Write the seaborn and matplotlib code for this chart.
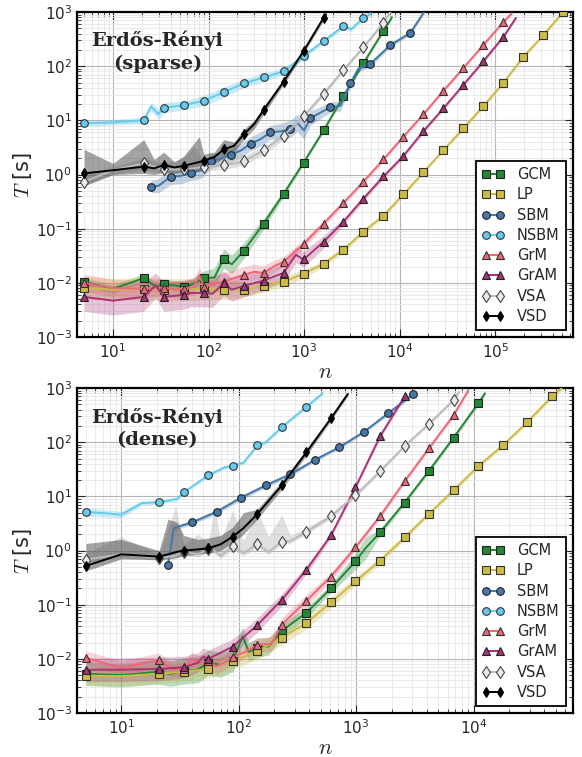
import numpy as np
import matplotlib
matplotlib.use('Agg')
import matplotlib.pyplot as plt
from matplotlib.lines import Line2D
import seaborn as sns

# ---------------------------------------------------------------
# data (n = graph size, T = runtime in s)
# markers are drawn on the Fibonacci grid (SBM: 5 x Fibonacci)
# ---------------------------------------------------------------
MARK_N = [5, 21, 34, 55, 89, 144, 233, 377, 610, 987, 1597, 2584, 4181, 6765,
          10946, 17711, 28657, 46368, 75025, 121393, 196418, 317811, 514229]
MARK_N_SBM = [25, 40, 65, 105, 170, 275, 445, 720, 1165, 1885, 3050, 4935, 7985, 12920]

METHODS = ["GCM", "LP", "SBM", "NSBM", "GrM", "GrAM", "VSA", "VSD"]

# ---- sparse ----
SP_GCM_N = [5, 10, 21, 28, 34, 55, 65, 89, 115, 144, 175, 233, 377, 610, 987, 1597, 2584, 4181, 6765, 8300]
SP_GCM_T = [0.0105, 0.0078, 0.0122, 0.0085, 0.0095, 0.0085, 0.0092, 0.0122, 0.0125, 0.028, 0.022, 0.039,
            0.124, 0.44, 1.66, 6.5, 28, 114, 450, 800]
SP_GCM_S = [1.2, 1.2, 1.2, 1.2, 1.2, 1.25, 1.25, 1.35, 1.5, 1.5, 1.5, 1.4, 1.25, 1.15, 1.1, 1.08, 1.08,
            1.08, 1.08, 1.08]

SP_LP_N = [5, 10, 21, 34, 55, 89, 144, 233, 377, 610, 987, 1597, 2584, 4181, 6765, 10946, 17711, 28657,
           46368, 75025, 121393, 196418, 317811, 514229]
SP_LP_T = [0.0081, 0.0075, 0.0078, 0.0075, 0.0075, 0.0077, 0.0075, 0.0075, 0.0088, 0.0105, 0.0147, 0.0224,
           0.041, 0.088, 0.174, 0.43, 1.1, 2.8, 7.1, 18.2, 49, 148, 370, 1000]
SP_LP_S = [1.6, 1.6, 1.6, 1.6, 1.6, 1.6, 1.5, 1.4, 1.3, 1.25, 1.2, 1.15, 1.12, 1.1, 1.1, 1.08, 1.08, 1.08,
           1.08, 1.08, 1.08, 1.08, 1.08, 1.08]

SP_SBM_N = [25, 30, 40, 52, 65, 85, 105, 140, 170, 220, 275, 350, 445, 580, 720, 850, 1000, 1165, 1885,
            2400, 3050, 3700, 4935, 7985, 12920, 18000]
SP_SBM_T = [0.60, 0.62, 0.91, 0.95, 1.08, 1.2, 1.75, 2.0, 2.3, 2.8, 3.7, 4.5, 6.0, 6.3, 7.0, 9.0, 6.5, 11,
            17.5, 18.5, 48, 90, 110, 245, 410, 1000]
SP_SBM_S = [1.3, 1.35, 1.4, 1.4, 1.4, 1.4, 1.35, 1.35, 1.35, 1.35, 1.35, 1.35, 1.35, 1.4, 1.45, 1.45, 1.45,
            1.35, 1.25, 1.25, 1.2, 1.15, 1.12, 1.1, 1.1, 1.1]

SP_NSBM_N = [5, 10, 21, 25, 30, 34, 55, 89, 144, 233, 377, 610, 987, 1597, 2584, 3100, 4181, 5000]
SP_NSBM_T = [8.8, 9.2, 10, 18, 13, 17, 19, 23, 33, 48, 62, 80, 153, 290, 550, 480, 780, 950]
SP_NSBM_S = [1.12, 1.12, 1.15, 1.2, 1.25, 1.25, 1.2, 1.25, 1.25, 1.2, 1.2, 1.15, 1.12, 1.1, 1.1, 1.1, 1.1, 1.1]

SP_GRM_N = [5, 10, 21, 34, 45, 55, 70, 80, 89, 110, 144, 190, 233, 300, 377, 480, 610, 987, 1597, 2584,
            4181, 6765, 10946, 17711, 28657, 46368, 75025, 121393, 150000]
SP_GRM_T = [0.0100, 0.008, 0.0078, 0.0082, 0.0075, 0.0078, 0.0085, 0.014, 0.0083, 0.0095, 0.0105, 0.0125,
            0.014, 0.016, 0.0153, 0.02, 0.0245, 0.052, 0.124, 0.30, 0.74, 1.9, 5.0, 12.9, 35, 92, 245, 650, 950]
SP_GRM_S = [1.45, 1.45, 1.45, 1.45, 1.45, 1.45, 1.45, 1.4, 1.45, 1.45, 1.45, 1.45, 1.4, 1.4, 1.35, 1.3, 1.25,
            1.2, 1.15, 1.12, 1.1, 1.1, 1.08, 1.08, 1.08, 1.08, 1.08, 1.08, 1.08]

SP_GRAM_N = [5, 10, 21, 28, 34, 55, 65, 89, 110, 144, 175, 233, 377, 610, 820, 987, 1597, 2584, 4181,
             6765, 10946, 17711, 28657, 46368, 75025, 121393, 165000]
SP_GRAM_T = [0.0055, 0.0047, 0.0055, 0.009, 0.0055, 0.006, 0.0065, 0.0065, 0.0063, 0.0098, 0.0075, 0.0088,
             0.011, 0.0153, 0.033, 0.027, 0.057, 0.135, 0.36, 0.92, 2.2, 6.3, 16.6, 45, 123, 345, 780]
SP_GRAM_S = [1.85, 1.85, 1.85, 1.7, 1.85, 1.85, 1.8, 1.8, 1.8, 1.7, 1.65, 1.6, 1.5, 1.45, 1.4, 1.4, 1.3,
             1.15, 1.12, 1.1, 1.1, 1.08, 1.08, 1.08, 1.08, 1.08, 1.08]

SP_VSA_N = [5, 10, 21, 34, 55, 70, 89, 144, 185, 233, 377, 610, 987, 1597, 2584, 4181, 6765, 8000]
SP_VSA_T = [0.74, 1.2, 1.6, 1.24, 1.24, 1.3, 1.4, 1.5, 1.6, 1.75, 2.8, 5.2, 11.8, 31, 85, 225, 630, 1000]
SP_VSA_LO = [0.62, 1.0, 1.2, 1.05, 1.05, 1.1, 1.15, 1.25, 1.35, 1.5, 2.3, 4.5, 10.5, 28, 78, 210, 590, 940]
SP_VSA_HI = [1.0, 1.4, 2.0, 1.6, 2.0, 3.3, 1.8, 2.2, 3.3, 2.2, 3.3, 6.0, 13, 34, 92, 240, 670, 1060]

SP_VSD_N = [5, 10, 21, 27, 34, 44, 55, 80, 89, 115, 144, 185, 233, 300, 377, 610, 987, 1597, 1700]
SP_VSD_T = [1.05, 1.2, 1.4, 1.3, 1.5, 1.35, 1.45, 1.7, 1.8, 2.1, 2.9, 3.4, 5.5, 8.5, 15.5, 52, 190, 780, 900]
SP_VSD_LO = [0.62, 1.0, 1.05, 1.0, 1.1, 1.05, 1.1, 1.2, 1.4, 1.6, 2.0, 2.6, 4.4, 7.0, 13, 46, 170, 700, 820]
SP_VSD_HI = [2.9, 1.6, 4.4, 1.9, 2.6, 1.7, 2.2, 5.0, 2.4, 2.6, 4.4, 4.0, 6.8, 10, 18, 58, 210, 860, 980]

# ---- dense ----
DE_GCM_N = [5, 10, 21, 26, 34, 45, 55, 70, 89, 108, 122, 144, 180, 233, 377, 610, 987, 1200, 1597, 2584,
            4181, 6765, 10946, 12500]
DE_GCM_T = [0.0053, 0.0050, 0.0058, 0.0053, 0.006, 0.0063, 0.0085, 0.0078, 0.0092, 0.026, 0.0135, 0.016,
            0.017, 0.033, 0.071, 0.20, 0.63, 1.1, 2.16, 7.7, 30, 122, 520, 800]
DE_GCM_S = [1.65, 1.65, 1.7, 1.7, 1.75, 1.75, 1.7, 1.7, 1.6, 1.5, 1.5, 1.5, 1.45, 1.35, 1.25, 1.2, 1.4, 1.6,
            1.15, 1.1, 1.1, 1.1, 1.1, 1.1]

DE_LP_N = [5, 10, 21, 34, 55, 89, 144, 233, 377, 610, 987, 1597, 2584, 4181, 6765, 10946, 17711, 28657,
           46368, 70000]
DE_LP_T = [0.0049, 0.0048, 0.0053, 0.0058, 0.0065, 0.0092, 0.0138, 0.0245, 0.046, 0.11, 0.27, 0.65, 1.74,
           4.8, 13, 36, 87, 235, 700, 1500]
DE_LP_S = [1.5, 1.5, 1.5, 1.5, 1.5, 1.45, 1.4, 1.35, 1.3, 1.25, 1.2, 1.15, 1.12, 1.1, 1.1, 1.1, 1.1, 1.1,
           1.1, 1.1]

DE_SBM_N = [25, 28, 40, 65, 105, 170, 275, 445, 720, 1165, 1885, 3050]
DE_SBM_T = [0.55, 2.6, 3.3, 5.2, 9.5, 15.9, 25.5, 47, 81, 155, 345, 770]
DE_SBM_S = [1.08, 1.1, 1.1, 1.1, 1.1, 1.1, 1.1, 1.08, 1.08, 1.08, 1.08, 1.08]

DE_NSBM_N = [5, 10, 15, 21, 30, 34, 55, 75, 89, 110, 144, 170, 233, 377, 520]
DE_NSBM_T = [5.2, 4.6, 7.5, 7.8, 9.0, 11.8, 24.5, 34, 37, 42, 87, 100, 190, 450, 800]
DE_NSBM_S = [1.2, 1.15, 1.1, 1.08, 1.08, 1.08, 1.08, 1.08, 1.08, 1.08, 1.08, 1.08, 1.08, 1.08, 1.08]

DE_GRM_N = [5, 10, 21, 27, 34, 40, 45, 55, 65, 75, 89, 110, 144, 190, 233, 377, 610, 987, 1597, 2584,
            4181, 6765, 9000]
DE_GRM_T = [0.0104, 0.0068, 0.0095, 0.0065, 0.0065, 0.0100, 0.0085, 0.009, 0.0072, 0.0085, 0.011, 0.013,
            0.018, 0.019, 0.043, 0.118, 0.33, 1.14, 4.3, 19, 78, 316, 900]
DE_GRM_S = [1.35, 1.35, 1.35, 1.35, 1.35, 1.35, 1.35, 1.35, 1.35, 1.35, 1.35, 1.35, 1.35, 1.35, 1.35, 1.3,
            1.2, 1.15, 1.12, 1.1, 1.1, 1.1, 1.1]

DE_GRAM_N = [5, 10, 21, 34, 45, 50, 55, 89, 144, 233, 377, 610, 987, 1597, 2584]
DE_GRAM_T = [0.0063, 0.0063, 0.0065, 0.0070, 0.0085, 0.011, 0.0100, 0.0168, 0.042, 0.123, 0.44, 1.9, 14.7,
             128, 700]
DE_GRAM_S = [1.65, 1.65, 1.65, 1.6, 1.5, 1.45, 1.45, 1.4, 1.35, 1.3, 1.2, 1.12, 1.1, 1.1, 1.1]

DE_VSA_N = [5, 10, 21, 29, 34, 45, 55, 62, 70, 89, 110, 144, 180, 233, 275, 377, 610, 987, 1597, 2584,
            4181, 6765, 7500]
DE_VSA_T = [0.68, 0.85, 0.73, 0.8, 0.95, 0.85, 1.07, 1.0, 0.8, 1.2, 0.9, 1.3, 0.95, 1.45, 1.5, 2.2, 4.3,
            10.5, 29, 85, 220, 600, 850]
DE_VSA_LO = [0.6, 0.75, 0.65, 0.7, 0.85, 0.75, 0.95, 0.9, 0.7, 1.05, 0.8, 1.15, 0.85, 1.3, 1.35, 2.0, 3.9,
             9.5, 27, 80, 205, 570, 800]
DE_VSA_HI = [0.9, 1.8, 0.85, 6.6, 1.3, 2.0, 1.4, 6.2, 1.6, 5.5, 1.5, 5.3, 1.8, 4.6, 1.9, 2.6, 4.8, 11.5,
             31, 90, 235, 630, 900]

DE_VSD_N = [5, 10, 21, 25, 30, 34, 45, 55, 70, 89, 110, 144, 233, 377, 610, 850]
DE_VSD_T = [0.52, 0.85, 0.77, 0.85, 0.95, 1.0, 1.05, 1.1, 1.3, 1.8, 2.6, 4.7, 16, 65, 276, 780]
DE_VSD_LO = [0.42, 0.7, 0.68, 0.7, 0.75, 0.8, 0.85, 0.9, 1.0, 1.4, 2.0, 3.8, 13.5, 57, 250, 720]
DE_VSD_HI = [1.35, 1.6, 1.0, 3.8, 3.3, 1.9, 1.6, 1.7, 1.9, 2.7, 5.0, 5.8, 19, 74, 300, 840]

# ---------------------------------------------------------------
# styles
# ---------------------------------------------------------------
STYLE = {
    "GCM":  dict(color="#228833", marker="s", ms=5.5, mfc="#228833", mec="#222222", band="#228833", alpha=0.3),
    "LP":   dict(color="#CCBB44", marker="s", ms=5.5, mfc="#CCBB44", mec="#333333", band="#CCBB44", alpha=0.3),
    "SBM":  dict(color="#4477AA", marker="o", ms=5.5, mfc="#4477AA", mec="#222222", band="#4477AA", alpha=0.3),
    "NSBM": dict(color="#66CCEE", marker="o", ms=5.5, mfc="#66CCEE", mec="#333333", band="#66CCEE", alpha=0.35),
    "GrM":  dict(color="#EE6677", marker="^", ms=6, mfc="#EE6677", mec="#333333", band="#EE6677", alpha=0.28),
    "GrAM": dict(color="#AA3377", marker="^", ms=6, mfc="#AA3377", mec="#222222", band="#AA3377", alpha=0.28),
    "VSA":  dict(color="#BBBBBB", marker="d", ms=6.5, mfc="#E8E8E8", mec="#444444", band="#BBBBBB", alpha=0.45),
    "VSD":  dict(color="black", marker="d", ms=5, mfc="black", mec="black", band="#333333", alpha=0.45),
}


def draw(ax, name, n, t, lo, hi, marks):
    st = STYLE[name]
    ax.fill_between(n, lo, hi, color=st["band"], alpha=st["alpha"], lw=0, zorder=1)
    idx = [i for i, v in enumerate(n) if v in marks]
    sns.lineplot(x=n, y=t, ax=ax, color=st["color"], lw=1.4, marker=st["marker"], markevery=idx,
                 ms=st["ms"], mfc=st["mfc"], mec=st["mec"], mew=0.8, errorbar=None, sort=False, zorder=3)


def spread(t, s):
    t, s = np.array(t), np.array(s)
    return t / s, t * s


sns.set_style("ticks", {"xtick.direction": "in", "ytick.direction": "in"})
plt.rcParams["font.family"] = ["DejaVu Sans"]
plt.rcParams["mathtext.fontset"] = "cm"

fig = plt.figure(figsize=(5.82, 7.57), dpi=100)
ax_sp = fig.add_axes([0.1323, 0.5548, 0.852, 0.4293])
ax_de = fig.add_axes([0.1323, 0.0581, 0.852, 0.4293])

panels = [
    (ax_sp, "sparse", (4.2, 6.5e5), [
        ("GCM", SP_GCM_N, SP_GCM_T, *spread(SP_GCM_T, SP_GCM_S)),
        ("LP", SP_LP_N, SP_LP_T, *spread(SP_LP_T, SP_LP_S)),
        ("SBM", SP_SBM_N, SP_SBM_T, *spread(SP_SBM_T, SP_SBM_S)),
        ("NSBM", SP_NSBM_N, SP_NSBM_T, *spread(SP_NSBM_T, SP_NSBM_S)),
        ("GrM", SP_GRM_N, SP_GRM_T, *spread(SP_GRM_T, SP_GRM_S)),
        ("GrAM", SP_GRAM_N, SP_GRAM_T, *spread(SP_GRAM_T, SP_GRAM_S)),
        ("VSA", SP_VSA_N, SP_VSA_T, SP_VSA_LO, SP_VSA_HI),
        ("VSD", SP_VSD_N, SP_VSD_T, SP_VSD_LO, SP_VSD_HI),
    ]),
    (ax_de, "dense", (4.2, 7e4), [
        ("GCM", DE_GCM_N, DE_GCM_T, *spread(DE_GCM_T, DE_GCM_S)),
        ("LP", DE_LP_N, DE_LP_T, *spread(DE_LP_T, DE_LP_S)),
        ("SBM", DE_SBM_N, DE_SBM_T, *spread(DE_SBM_T, DE_SBM_S)),
        ("NSBM", DE_NSBM_N, DE_NSBM_T, *spread(DE_NSBM_T, DE_NSBM_S)),
        ("GrM", DE_GRM_N, DE_GRM_T, *spread(DE_GRM_T, DE_GRM_S)),
        ("GrAM", DE_GRAM_N, DE_GRAM_T, *spread(DE_GRAM_T, DE_GRAM_S)),
        ("VSA", DE_VSA_N, DE_VSA_T, DE_VSA_LO, DE_VSA_HI),
        ("VSD", DE_VSD_N, DE_VSD_T, DE_VSD_LO, DE_VSD_HI),
    ]),
]

for ax, kind, xlim, series in panels:
    ax.set_xscale("log")
    ax.set_yscale("log")
    for name, n, t, lo, hi in series:
        marks = MARK_N_SBM if name == "SBM" else MARK_N
        draw(ax, name, n, t, lo, hi, marks)

    ax.set_xlim(*xlim)
    ax.set_ylim(1e-3, 1e3)
    ax.grid(which="major", color="#b5b5b5", lw=0.8, zorder=0)
    ax.grid(which="minor", color="#e6e6e6", lw=0.6, zorder=0)
    ax.set_axisbelow(True)
    ax.tick_params(which="both", direction="in", top=True, right=True, labelsize=11)
    ax.tick_params(which="major", length=6, width=0.8)
    ax.tick_params(which="minor", length=3, width=0.6)
    for sp in ax.spines.values():
        sp.set_linewidth(1.6)
        sp.set_color("black")

    ax.set_xlabel("$n$", fontsize=16, labelpad=1)
    ax.set_ylabel("$T$ [s]", fontsize=15, labelpad=1)

    ax.text(0.162, 0.877, "Erdős-Rényi\n(%s)" % kind, transform=ax.transAxes, ha="center", va="center",
            family="DejaVu Serif", fontweight="bold", fontsize=14, linespacing=1.3, zorder=5)

    handles = [Line2D([], [], color=STYLE[m]["color"], lw=1.4, marker=STYLE[m]["marker"],
                      ms=STYLE[m]["ms"], mfc=STYLE[m]["mfc"], mec=STYLE[m]["mec"], mew=0.8, label=m)
               for m in METHODS]
    leg = ax.legend(handles=handles, loc="lower right", numpoints=2, fontsize=10.5, frameon=True,
                    fancybox=False, framealpha=1, edgecolor="black", labelspacing=0.36,
                    handlelength=1.5, handletextpad=0.9, borderpad=0.45, borderaxespad=0.45)
    leg.get_frame().set_linewidth(1.3)
    leg.set_zorder(10)

fig.savefig("out.png", dpi=100)
